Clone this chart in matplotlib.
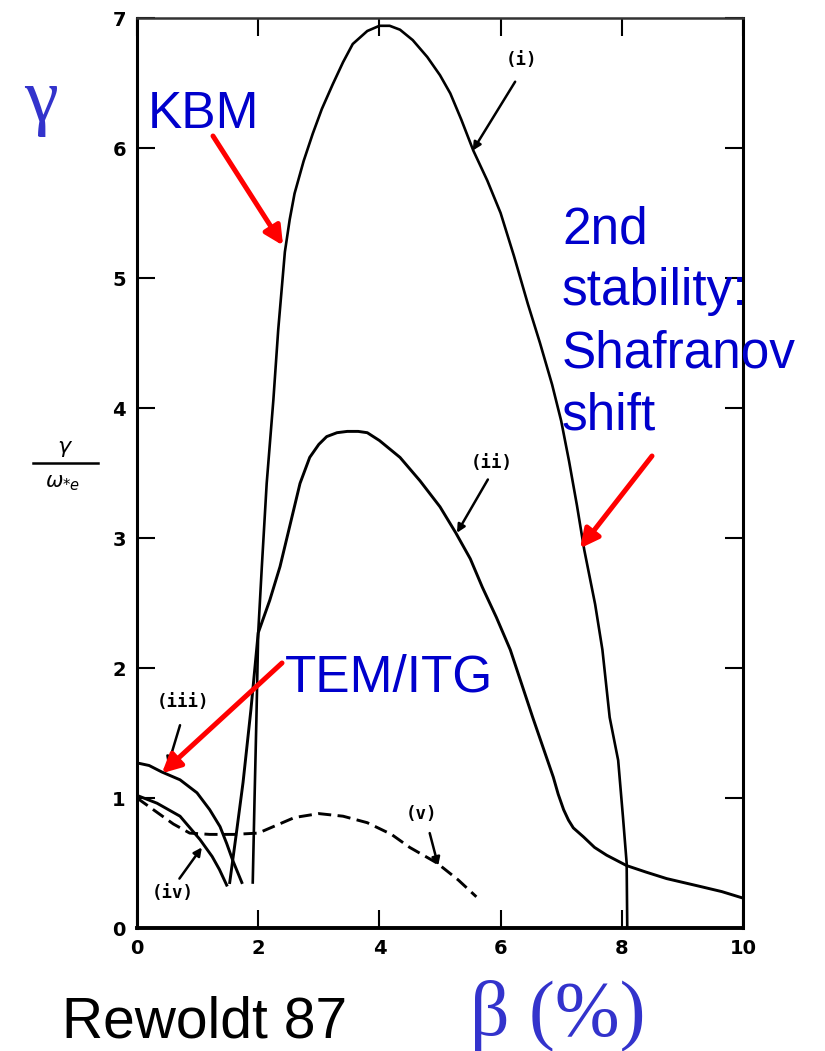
import matplotlib.pyplot as plt
from matplotlib.lines import Line2D

# growth rate gamma/omega_*e against beta (%) for the five modes
beta_i = [1.91, 1.94, 1.97, 2.0, 2.06, 2.14, 2.25, 2.33, 2.44, 2.52, 2.6, 2.75, 2.9,
          3.05, 3.23, 3.4, 3.56, 3.8, 4.0, 4.17, 4.34, 4.55, 4.79, 5.0, 5.17,
          5.35, 5.55, 5.78, 6.0, 6.22, 6.45, 6.65, 6.85, 7.0, 7.13, 7.26, 7.38,
          7.56, 7.68, 7.8, 7.94, 8.02, 8.08, 8.09]
gam_i = [0.35, 1.0, 1.6, 2.27, 2.78, 3.42, 4.06, 4.6, 5.2, 5.45, 5.65, 5.9, 6.11,
         6.3, 6.49, 6.66, 6.8, 6.9, 6.94, 6.94, 6.91, 6.83, 6.7, 6.56, 6.42,
         6.22, 5.98, 5.75, 5.5, 5.17, 4.8, 4.5, 4.18, 3.9, 3.59, 3.25, 2.91,
         2.49, 2.14, 1.62, 1.29, 0.85, 0.5, 0.0]

beta_ii = [1.53, 1.64, 1.75, 1.88, 2.0, 2.19, 2.36, 2.52, 2.69, 2.85, 3.0, 3.13,
           3.3, 3.47, 3.65, 3.8, 4.0, 4.34, 4.67, 5.0, 5.26, 5.5, 5.7, 5.93,
           6.16, 6.53, 6.87, 6.95, 7.04, 7.12, 7.2, 7.37, 7.55, 7.75, 8.08,
           8.4, 8.74, 9.29, 9.65, 10.0]
gam_ii = [0.35, 0.73, 1.12, 1.68, 2.27, 2.52, 2.78, 3.09, 3.42, 3.62, 3.72, 3.78,
          3.81, 3.82, 3.82, 3.81, 3.75, 3.62, 3.44, 3.24, 3.04, 2.84, 2.62, 2.39,
          2.14, 1.62, 1.16, 1.03, 0.91, 0.83, 0.77, 0.70, 0.62, 0.56, 0.48,
          0.43, 0.38, 0.32, 0.28, 0.23]

beta_iii = [0.0, 0.2, 0.41, 0.71, 0.99, 1.2, 1.37, 1.48, 1.58, 1.73]
gam_iii = [1.27, 1.25, 1.2, 1.14, 1.04, 0.91, 0.78, 0.65, 0.52, 0.35]

beta_iv = [0.0, 0.33, 0.71, 1.04, 1.24, 1.36, 1.48]
gam_iv = [1.02, 0.96, 0.86, 0.68, 0.55, 0.45, 0.33]

beta_v = [0.0, 0.3, 0.6, 0.87, 1.2, 1.6, 2.0, 2.3, 2.6, 3.0, 3.4, 3.8, 4.2, 4.5,
          4.95, 5.3, 5.6]
gam_v = [1.0, 0.9, 0.8, 0.73, 0.72, 0.72, 0.73, 0.79, 0.85, 0.88, 0.86, 0.81,
         0.72, 0.62, 0.5, 0.37, 0.24]

xticks = [0, 2, 4, 6, 8, 10]
yticks = [0, 1, 2, 3, 4, 5, 6, 7]

W, H = 825, 1051


def fx(px):
    return px / W


def fy(py):
    return 1 - py / H


fig = plt.figure(figsize=(W / 100, H / 100), dpi=100)
ax = fig.add_axes([fx(137), fy(928), 606 / W, 910 / H])

ax.plot(beta_i, gam_i, color='black', lw=1.9)
ax.plot(beta_ii, gam_ii, color='black', lw=2.1)
ax.plot(beta_iii, gam_iii, color='black', lw=2.1)
ax.plot(beta_iv, gam_iv, color='black', lw=2.1)
ax.plot(beta_v, gam_v, color='black', lw=2.1, linestyle=(0, (4.5, 2.2)))

ax.set_xlim(0, 10)
ax.set_ylim(0, 7)
ax.set_xticks(xticks)
ax.set_yticks(yticks)
ax.tick_params(direction='in', length=13, width=1.5, top=True, right=True,
               labelsize=14, pad=8)
for lab in ax.get_xticklabels() + ax.get_yticklabels():
    lab.set_fontweight('bold')
for side, lw in [('left', 2.2), ('bottom', 2.8), ('top', 1.8), ('right', 2.2)]:
    ax.spines[side].set_linewidth(lw)
ax.spines['top'].set_color('#333333')

# curve tags with their little pointers
tags = [('(i)', (6.35, 6.68), (6.24, 6.51), (5.54, 5.98)),
        ('(ii)', (5.86, 3.58), (5.79, 3.45), (5.28, 3.04)),
        ('(iii)', (0.76, 1.74), (0.71, 1.56), (0.51, 1.25)),
        ('(iv)', (0.59, 0.27), (0.70, 0.38), (1.07, 0.62)),
        ('(v)', (4.69, 0.88), (4.83, 0.73), (4.97, 0.48))]
for txt, pos, tail, tip in tags:
    ax.text(pos[0], pos[1], txt, ha='center', va='center', fontsize=12.5,
            family='DejaVu Sans Mono', fontweight='bold')
    ax.annotate('', xy=tip, xytext=tail,
                arrowprops=dict(arrowstyle='-|>', color='black', lw=1.8,
                                mutation_scale=12, shrinkA=0, shrinkB=0))

# y label as a stacked fraction
fig.text(fx(65), fy(449), r'$\gamma$', ha='center', va='center', fontsize=16)
fig.add_artist(Line2D([fx(33), fx(98)], [fy(463), fy(463)], color='black', lw=1.8))
fig.text(fx(63), fy(483), r'$\omega_{*e}$', ha='center', va='center', fontsize=15)

blue = '#0000cc'
serif_blue = '#3333cc'
fig.text(fx(41), fy(121), 'γ', ha='center', va='baseline', fontsize=55,
         family='Liberation Serif', color=serif_blue)
fig.text(fx(470), fy(1035), 'β (%)', ha='left', va='baseline', fontsize=56,
         family='Liberation Serif', color=serif_blue)
fig.text(fx(62), fy(1037), 'Rewoldt 87', ha='left', va='baseline', fontsize=41,
         family='Liberation Sans', color='black')

fig.text(fx(148), fy(128), 'KBM', ha='left', va='baseline', fontsize=37,
         family='Liberation Sans', color=blue)
fig.text(fx(285), fy(692), 'TEM/ITG', ha='left', va='baseline', fontsize=37,
         family='Liberation Sans', color=blue)
for line, base in zip(['2nd', 'stability:', 'Shafranov', 'shift'], [243, 305, 367, 430]):
    fig.text(fx(562), fy(base), line, ha='left', va='baseline', fontsize=37,
             family='Liberation Sans', color=blue)

red_arrow = dict(arrowstyle='-|>', color='red', lw=3.6, mutation_scale=28,
                 shrinkA=0, shrinkB=0)
ax.annotate('', xy=(2.41, 5.25), xytext=(fx(213), fy(136)),
            textcoords='figure fraction', arrowprops=red_arrow)
ax.annotate('', xy=(7.31, 2.92), xytext=(fx(652), fy(456)),
            textcoords='figure fraction', arrowprops=red_arrow)
ax.annotate('', xy=(0.41, 1.19), xytext=(fx(282), fy(663)),
            textcoords='figure fraction', arrowprops=red_arrow)

fig.savefig('out.png', dpi=100)
